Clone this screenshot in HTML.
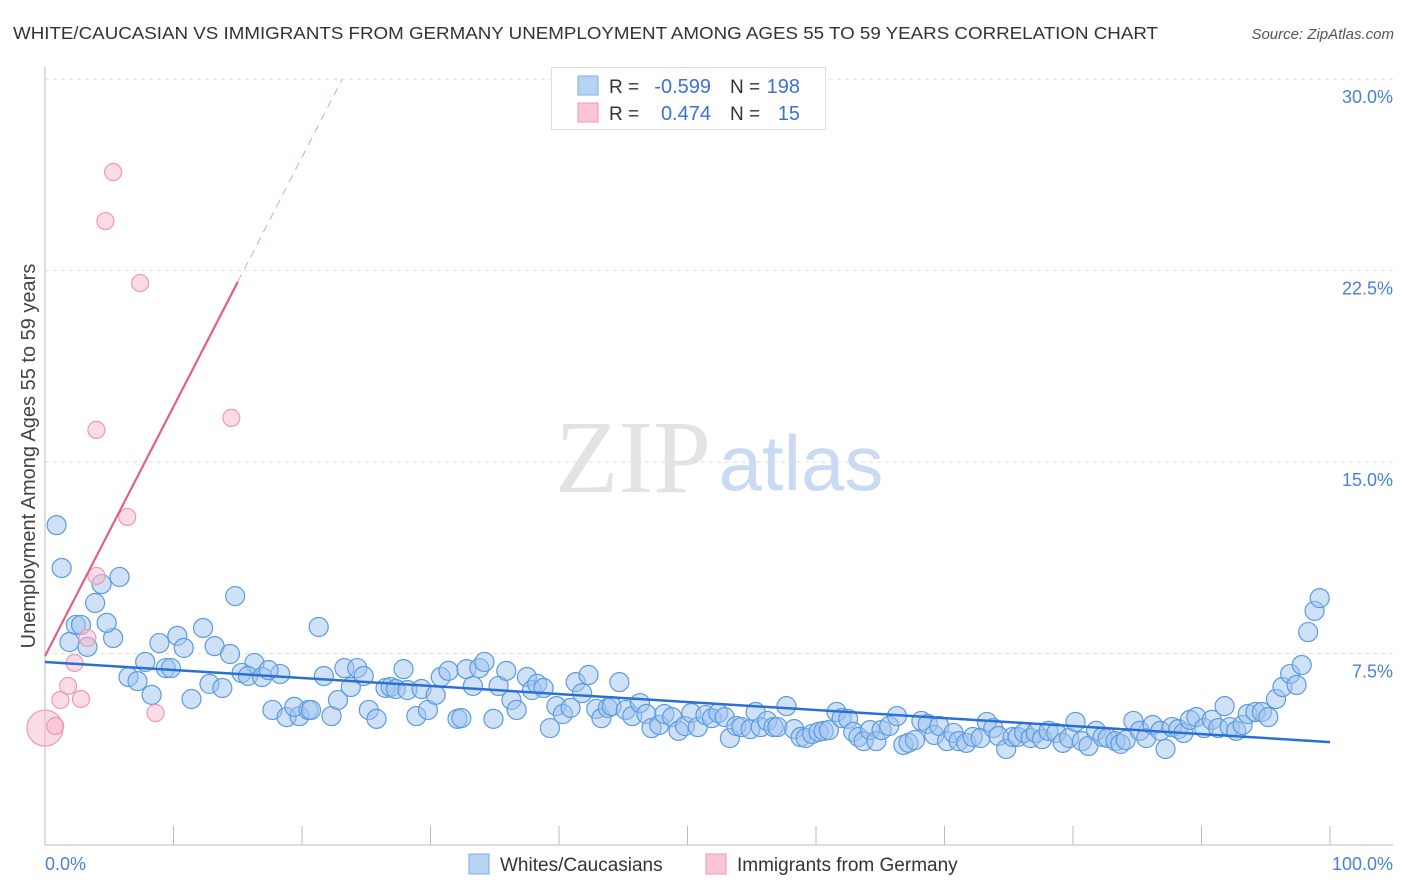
<!DOCTYPE html>
<html><head><meta charset="utf-8"><style>
body{margin:0;background:#fff;font-family:"Liberation Sans",sans-serif;}
#wrap{position:relative;width:1406px;height:892px;overflow:hidden;}
</style></head><body>
<div id="wrap">
<svg id="chart" width="1406" height="892" style="position:absolute;left:0;top:0"></svg>
</div>
<script>
const blueX=[0.9,1.3,4.4,5.8,3.9,2.4,2.8,1.9,3.3,5.3,4.8,8.9,10.3,12.3,10.8,7.8,6.5,7.2,8.3,9.4,9.8,11.4,12.8,13.8,13.2,14.4,14.8,16.3,15.3,15.8,16.9,18.3,17.4,17.7,18.8,19.8,19.4,20.5,20.7,21.3,21.7,22.3,22.8,23.3,23.8,24.3,24.8,25.2,25.8,26.5,26.9,27.3,28.2,27.9,28.9,29.3,29.8,30.4,30.8,31.4,32.1,32.4,32.8,33.3,33.8,34.2,34.9,35.3,35.9,36.3,36.7,37.5,37.9,38.3,38.8,39.3,39.8,40.3,40.9,41.3,41.8,42.3,42.9,43.3,43.8,44.1,44.7,45.2,45.7,46.3,46.8,47.2,47.8,48.2,48.8,49.3,49.8,50.3,50.8,51.4,51.9,52.4,52.9,53.3,53.8,54.2,54.9,55.3,55.7,56.2,56.7,57.0,57.7,58.3,58.8,59.2,59.7,60.2,60.6,61.0,61.6,62.0,62.5,62.9,63.3,63.7,64.2,64.7,65.1,65.7,66.3,66.8,67.2,67.7,68.2,68.7,69.2,69.6,70.2,70.7,71.1,71.7,72.2,72.8,73.3,73.8,74.2,74.8,75.3,75.7,76.2,76.7,77.1,77.6,78.1,78.7,79.2,79.7,80.2,80.7,81.2,81.8,82.3,82.7,83.3,83.7,84.1,84.7,85.2,85.7,86.2,86.8,87.2,87.7,88.2,88.6,89.1,89.6,90.2,90.8,91.3,91.8,92.2,92.7,93.2,93.6,94.2,94.7,95.2,95.8,96.3,96.9,97.4,97.8,98.3,98.8,99.2];
const blueY=[12.53,10.85,10.22,10.50,9.48,8.62,8.62,7.95,7.76,8.11,8.70,7.91,8.19,8.50,7.72,7.17,6.58,6.42,5.88,6.93,6.93,5.72,6.31,6.15,7.79,7.48,9.75,7.13,6.74,6.62,6.58,6.70,6.85,5.29,5.01,5.05,5.41,5.29,5.29,8.54,6.62,5.05,5.68,6.93,6.19,6.93,6.62,5.29,4.94,6.15,6.19,6.11,6.07,6.89,5.05,6.11,5.29,5.88,6.58,6.82,4.94,4.97,6.89,6.23,6.93,7.17,4.94,6.23,6.82,5.68,5.29,6.58,6.07,6.31,6.15,4.58,5.44,5.13,5.37,6.38,5.95,6.66,5.33,4.97,5.37,5.44,6.38,5.29,5.05,5.56,5.13,4.58,4.70,5.13,5.01,4.47,4.66,5.17,4.62,5.09,4.97,5.17,5.01,4.19,4.66,4.62,4.54,5.21,4.62,4.86,4.62,4.62,5.44,4.54,4.23,4.19,4.35,4.43,4.47,4.50,5.21,4.97,4.94,4.43,4.23,4.07,4.50,4.07,4.50,4.66,5.05,3.92,4.00,4.11,4.86,4.74,4.31,4.66,4.07,4.39,4.07,4.00,4.23,4.19,4.82,4.58,4.27,3.76,4.23,4.23,4.39,4.19,4.39,4.15,4.47,4.39,4.00,4.19,4.82,4.07,3.88,4.47,4.23,4.19,4.07,3.96,4.11,4.86,4.47,4.19,4.70,4.47,3.76,4.62,4.54,4.39,4.90,5.01,4.58,4.90,4.58,5.44,4.62,4.47,4.70,5.13,5.21,5.21,5.01,5.72,6.19,6.70,6.27,7.05,8.34,9.17,9.67];
const pinkX=[0.8,1.2,1.8,2.3,2.8,3.3,4.0,4.0,4.7,5.3,6.4,7.4,8.6,14.5];
const pinkY=[4.66,5.68,6.23,7.13,5.72,8.11,10.54,16.26,24.44,26.36,12.85,22.01,5.17,16.73];
const bigPinkX=[0.0], bigPinkY=[4.58];
const blueTrend=[7.17,4.03]; // y at x=0 and x=100
const pinkTrend=[7.40,0.977]; // intercept, slope
const yTicks=[7.5,15,22.5,30];
const yTickLabels=["7.5%","15.0%","22.5%","30.0%"];

const X0=45,X1=1330,Y0=845,PPY=25.53;
const sx=v=>X0+(X1-X0)*v/100;
const sy=v=>Y0-v*PPY;
const NS="http://www.w3.org/2000/svg";
const svg=document.getElementById('chart');
function mk(tag,attrs,parent){const e=document.createElementNS(NS,tag);for(const k in attrs)e.setAttribute(k,attrs[k]);(parent||svg).appendChild(e);return e;}

let t=mk('text',{x:13,y:39,'font-size':17.5,fill:'#333',textLength:1145,lengthAdjust:'spacingAndGlyphs'});t.textContent='WHITE/CAUCASIAN VS IMMIGRANTS FROM GERMANY UNEMPLOYMENT AMONG AGES 55 TO 59 YEARS CORRELATION CHART';


t=mk('text',{x:1394,y:39,'font-size':15,fill:'#555','font-style':'italic','text-anchor':'end'});t.textContent='Source: ZipAtlas.com';



t=mk('text',{x:633,y:492,'font-size':104,fill:'#e3e3e3','font-family':'Liberation Serif,serif','text-anchor':'middle'});t.textContent='ZIP';


t=mk('text',{x:801,y:490,'font-size':78,fill:'#c9daf2','text-anchor':'middle'});t.textContent='atlas';



yTicks.forEach((v,i)=>{
  const g=mk('line',{x1:X0,x2:1393,y1:sy(v),y2:sy(v),stroke:'#ddd','stroke-dasharray':'4,4'});
  
  
  const l=mk('text',{x:1393,y:sy(v)+24,'font-size':18,fill:'#4a7fd8','text-anchor':'end'});l.textContent=yTickLabels[i];
  
  
});
let a=mk('line',{x1:X0,x2:X0,y1:67,y2:Y0,stroke:'#bbb'});


a=mk('line',{x1:X0,x2:1393,y1:Y0,y2:Y0,stroke:'#bbb'});


for(let k=1;k<=10;k++){const tk=mk('line',{x1:sx(k*10),x2:sx(k*10),y1:826,y2:Y0,stroke:'#bbb'});

}
t=mk('text',{x:45,y:870,'font-size':18,fill:'#4a7fd8'});t.textContent='0.0%';


t=mk('text',{x:1393,y:870,'font-size':18,fill:'#4a7fd8','text-anchor':'end'});t.textContent='100.0%';


t=mk('text',{x:0,y:0,'font-size':20,fill:'#444','text-anchor':'middle',transform:'translate(35,456) rotate(-90)'});t.textContent='Unemployment Among Ages 55 to 59 years';



blueX.forEach((x,i)=>{const c=mk('circle',{cx:sx(x),cy:sy(blueY[i]),r:9.5,fill:'rgba(160,196,240,0.5)',stroke:'#5b9be0','stroke-width':1.2});

});
bigPinkX.forEach((x,i)=>{const c=mk('circle',{cx:sx(x),cy:sy(bigPinkY[i]),r:18,fill:'rgba(248,184,204,0.5)',stroke:'#ec9ab2','stroke-width':1.2});

});
pinkX.forEach((x,i)=>{const c=mk('circle',{cx:sx(x),cy:sy(pinkY[i]),r:8.5,fill:'rgba(248,184,204,0.5)',stroke:'#ec9ab2','stroke-width':1.2});

});

let l=mk('line',{x1:sx(0),y1:sy(blueTrend[0]),x2:sx(100),y2:sy(blueTrend[1]),stroke:'#2b6fd6','stroke-width':2.5});


const pEnd=15, pDash=(30-pinkTrend[0])/pinkTrend[1];
l=mk('line',{x1:sx(0),y1:sy(pinkTrend[0]),x2:sx(pEnd),y2:sy(pinkTrend[0]+pinkTrend[1]*pEnd),stroke:'#e0608a','stroke-width':2.2});


l=mk('line',{x1:sx(pEnd),y1:sy(pinkTrend[0]+pinkTrend[1]*pEnd),x2:sx(pDash),y2:sy(30),stroke:'#e8a0b8','stroke-width':1,'stroke-dasharray':'8,6'});



const lg=mk('g',{});


mk('rect',{x:551.5,y:67.5,width:274,height:62,fill:'#fff',stroke:'#ddd'},lg);
mk('rect',{x:578,y:76,width:20,height:19,fill:'#b8d2f4',stroke:'#7eaee8'},lg);
mk('rect',{x:578,y:103,width:20,height:19,fill:'#f9c6d5',stroke:'#ee9cb6'},lg);
const rows=[["-0.599","198",93],["0.474","15",120]];
rows.forEach(r=>{
  let e=mk('text',{x:609,y:r[2],'font-size':19,fill:'#333'},lg);e.textContent='R =';
  e=mk('text',{x:711,y:r[2],'font-size':20,fill:'#3a72d4','text-anchor':'end'},lg);e.textContent=r[0];
  e=mk('text',{x:730,y:r[2],'font-size':19,fill:'#333'},lg);e.textContent='N =';
  e=mk('text',{x:800,y:r[2],'font-size':20,fill:'#3a72d4','text-anchor':'end'},lg);e.textContent=r[1];
});

const bl=mk('g',{});


let r=mk('rect',{x:469,y:854,width:20,height:20,fill:'#b8d2f4',stroke:'#7eaee8'},bl);


t=mk('text',{x:500,y:871,'font-size':19,fill:'#333'},bl);t.textContent='Whites/Caucasians';


r=mk('rect',{x:706,y:854,width:20,height:20,fill:'#f9c6d5',stroke:'#ee9cb6'},bl);


t=mk('text',{x:737,y:871,'font-size':19,fill:'#333'},bl);t.textContent='Immigrants from Germany';


</script>
</body></html>
